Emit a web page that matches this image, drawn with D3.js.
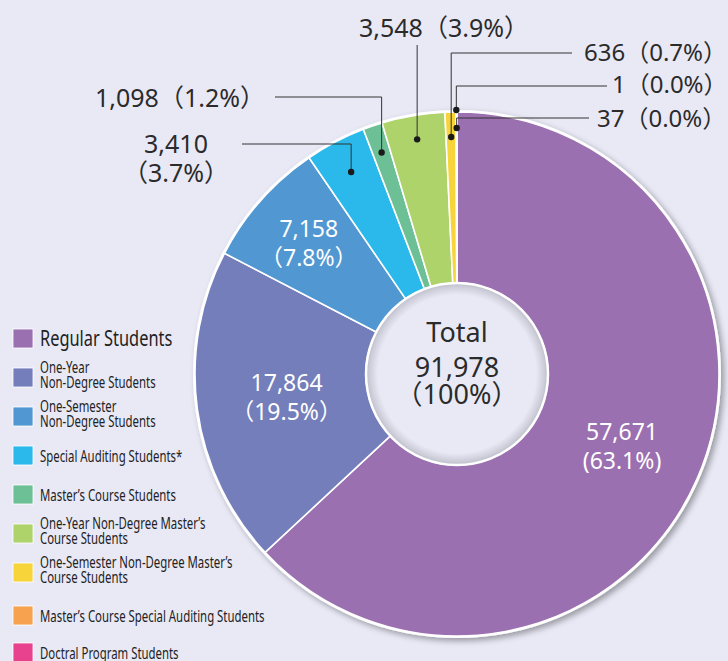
<!DOCTYPE html>
<html>
<head>
<meta charset="utf-8">
<script src="https://cdn.jsdelivr.net/npm/d3@7"></script>
<style>
  html, body { margin: 0; padding: 0; background: #e9e9f6; }
  svg { display: block; font-family: "Noto Sans", "Noto Sans CJK JP", sans-serif; }
</style>
</head>
<body>
<svg id="chart" width="728" height="661"></svg>
<script>
// categories, in clockwise order from 12 o'clock
var categories = [
    "Regular Students",
    "One-Year Non-Degree Students",
    "One-Semester Non-Degree Students",
    "Special Auditing Students*",
    "Master's Course Students",
    "One-Year Non-Degree Master's Course Students",
    "One-Semester Non-Degree Master's Course Students",
    "Master's Course Special Auditing Students",
    "Doctral Program Students"
];
var values = [57671, 17864, 7158, 3410, 1098, 3548, 636, 1, 37];
var totalShown = 91978;

// legend text, broken the way the picture breaks it
var legendLines = [
    ["Regular Students"],
    ["One-Year", "Non-Degree Students"],
    ["One-Semester", "Non-Degree Students"],
    ["Special Auditing Students*"],
    ["Master\u2019s Course Students"],
    ["One-Year Non-Degree Master\u2019s", "Course Students"],
    ["One-Semester Non-Degree Master\u2019s", "Course Students"],
    ["Master\u2019s Course Special Auditing Students"],
    ["Doctral Program Students"]
];

var colors = ["#9b70b0", "#737ebb", "#5197d1", "#2bb9eb", "#6dbf95", "#aed36b", "#f7d43a", "#f6a24f", "#e8418d"];

var svg = d3.select("#chart");
var cx = 457, cy = 374, rOut = 262, rIn = 91;

var fmt = d3.format(",");
var sum = d3.sum(values);
function pct(v) { return d3.format(".1f")(v / sum * 100) + "%"; }

var defs = svg.append("defs");
var sh = defs.append("filter").attr("id", "shadow")
    .attr("x", "-10%").attr("y", "-10%").attr("width", "120%").attr("height", "120%");
sh.append("feGaussianBlur").attr("in", "SourceAlpha").attr("stdDeviation", 3);
sh.append("feOffset").attr("dx", 3).attr("dy", 3).attr("result", "b");
sh.append("feComponentTransfer").append("feFuncA").attr("type", "linear").attr("slope", 0.35);
var mg = sh.append("feMerge");
mg.append("feMergeNode");
mg.append("feMergeNode").attr("in", "SourceGraphic");

var hole = defs.append("radialGradient").attr("id", "hole");
hole.selectAll("stop")
    .data([{o: "0%", c: "#e9e9f6"}, {o: "87%", c: "#e9e9f6"}, {o: "96%", c: "#cdcdd9"}, {o: "100%", c: "#bdbdca"}])
    .enter().append("stop")
    .attr("offset", function (d) { return d.o; })
    .attr("stop-color", function (d) { return d.c; });

var g = svg.append("g").attr("transform", "translate(" + cx + "," + cy + ")");

// white rim with shadow behind the ring
g.append("circle").attr("r", rOut + 2).attr("fill", "#fff").attr("filter", "url(#shadow)");

var pie = d3.pie().sort(null).value(function (d) { return d; });
var arcs = pie(values);
var arc = d3.arc().innerRadius(rIn).outerRadius(rOut);

g.selectAll("path.slice")
    .data(arcs)
    .enter().append("path")
    .attr("class", "slice")
    .attr("d", arc)
    .attr("fill", function (d, i) { return colors[i]; })
    .attr("stroke", "#fff")
    .attr("stroke-width", 1.6)
    .attr("stroke-linejoin", "round");

// hole in the middle
g.append("circle").attr("r", rIn).attr("fill", "url(#hole)").attr("stroke", "#fff").attr("stroke-width", 2.5);

var center = g.append("g").attr("fill", "#2b2b2b").attr("font-size", 27).attr("text-anchor", "middle");
center.append("text").attr("y", -32).text("Total");
center.append("text").attr("y", 3).text(fmt(totalShown));
center.append("text").attr("y", 30).text("\uff08100%\uff09");

// labels inside the three big slices
var inside = [
    {i: 0, r: 180, open: "(", close: ")"},
    {i: 1, r: 172, open: "\uff08", close: "\uff09"},
    {i: 2, r: 198, open: "\uff08", close: "\uff09"}
];
inside.forEach(function (o) {
    var a = arcs[o.i];
    var c = d3.arc().innerRadius(o.r).outerRadius(o.r).centroid(a);
    var t = g.append("text")
        .attr("fill", "#fff").attr("font-size", 23).attr("text-anchor", "middle")
        .attr("transform", "translate(" + c[0] + "," + c[1] + ")");
    t.append("tspan").attr("x", 0).attr("y", -6).text(fmt(values[o.i]));
    t.append("tspan").attr("x", 0).attr("y", 23).text(o.open + pct(values[o.i]) + o.close);
});

// callouts for the thin slices: dot radius, elbow height, text placement
var callouts = [
    {i: 3, r: 228, elbowY: 144, lineTo: 242, tx: 176, ty: 153, fs: 25, anchor: "middle", twoLine: true},
    {i: 4, r: 234, elbowY: 97, lineTo: 275, tx: 265, ty: 107, fs: 25, anchor: "end"},
    {i: 5, r: 238, elbowY: 45, lineTo: null, tx: 359, ty: 37, fs: 25, anchor: "start"},
    {i: 6, r: 237, elbowY: 53, lineTo: 572, tx: 584, ty: 61, fs: 24, anchor: "start"},
    {i: 7, r: 264, elbowY: 86, lineTo: 607, tx: 612, ty: 93, fs: 24, anchor: "start"},
    {i: 8, r: 246, elbowY: 118, lineTo: 589, tx: 597, ty: 127, fs: 24, anchor: "start"}
];
var lab = svg.append("g");
callouts.forEach(function (o) {
    var a = arcs[o.i];
    var m = (a.startAngle + a.endAngle) / 2;
    var px = cx + o.r * Math.sin(m), py = cy - o.r * Math.cos(m);
    var pts = [[px, py], [px, o.elbowY]];
    if (o.lineTo !== null) pts.push([o.lineTo, o.elbowY]);
    lab.append("path")
        .attr("d", d3.line()(pts))
        .attr("fill", "none").attr("stroke", "#333").attr("stroke-width", 1);
    lab.append("circle").attr("cx", px).attr("cy", py).attr("r", 3.2).attr("fill", "#1a1a1a");
    var t = lab.append("text").attr("fill", "#2b2b2b").attr("font-size", o.fs).attr("text-anchor", o.anchor);
    if (o.twoLine) {
        t.append("tspan").attr("x", o.tx).attr("y", o.ty).text(fmt(values[o.i]));
        t.append("tspan").attr("x", o.tx).attr("y", o.ty + 29).text("\uff08" + pct(values[o.i]) + "\uff09");
    } else {
        t.attr("x", o.tx).attr("y", o.ty).text(fmt(values[o.i]) + "\uff08" + pct(values[o.i]) + "\uff09");
    }
});

// legend
var legendTop = [329, 368, 407, 446, 485, 524, 563, 606, 643];
var legend = svg.append("g");
categories.forEach(function (name, i) {
    var y = legendTop[i];
    legend.append("rect").attr("x", 13).attr("y", y).attr("width", 20).attr("height", 19)
        .attr("fill", colors[i]).attr("stroke", "#fff").attr("stroke-width", 0.8);
    var lines = legendLines[i];
    var big = i === 0;
    var fs = big ? 21 : 17;
    var t = legend.append("text")
        .attr("fill", "#222").attr("font-size", fs)
        .attr("transform", "translate(40,0) scale(" + (big ? 0.78 : 0.67) + ",1)");
    var base = lines.length === 1 ? y + (big ? 17 : 16) : y + 5;
    lines.forEach(function (l, k) {
        t.append("tspan").attr("x", 0).attr("y", base + k * 15).text(l);
    });
});
</script>
</body>
</html>
